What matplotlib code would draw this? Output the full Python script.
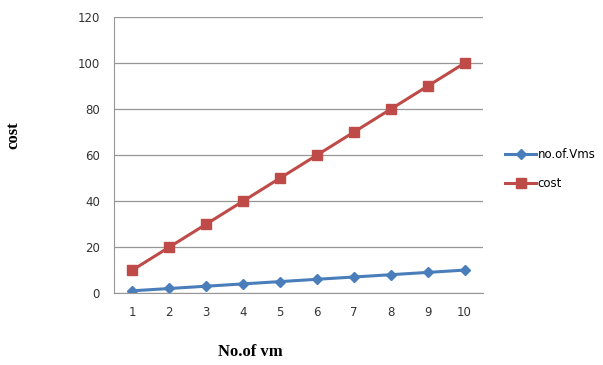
import numpy as np
import matplotlib
matplotlib.use("Agg")
import matplotlib.pyplot as plt

# Data
vm_counts = [1, 2, 3, 4, 5, 6, 7, 8, 9, 10]
no_of_vms = [1, 2, 3, 4, 5, 6, 7, 8, 9, 10]
cost = [10, 20, 30, 40, 50, 60, 70, 80, 90, 100]
y_ticks = [0, 20, 40, 60, 80, 100, 120]

fig = plt.figure(figsize=(6.03, 3.65), dpi=100)
ax = fig.add_axes([0.189, 0.197, 0.612, 0.756])

x = np.arange(len(vm_counts))
ax.plot(x, no_of_vms, color='#4A7EBB', linewidth=2.2, marker='D', markersize=5.5,
        label='no.of.Vms')
ax.plot(x, cost, color='#BE4B48', linewidth=2.2, marker='s', markersize=6.5,
        label='cost')

ax.set_xlim(-0.5, len(vm_counts) - 0.5)
ax.set_ylim(0, 120)
ax.set_yticks(y_ticks)
ax.set_xticks(x)
ax.set_xticklabels([str(v) for v in vm_counts])
ax.yaxis.grid(True, color='#969696', linewidth=0.9)
ax.set_axisbelow(True)

for side in ['top', 'right']:
    ax.spines[side].set_visible(False)
ax.spines['left'].set_color('#969696')
ax.spines['bottom'].set_color('#969696')
ax.tick_params(axis='both', length=0, labelsize=8.5, labelcolor='#333333')
ax.tick_params(axis='x', pad=9)
ax.tick_params(axis='y', pad=10)

fig.text(0.023, 0.63, 'cost', rotation=90, ha='center', va='center',
         fontsize=12, fontweight='bold', family='Liberation Serif')
fig.text(0.415, 0.035, 'No.of vm', ha='center', va='center',
         fontsize=12, fontweight='bold', family='Liberation Serif')

ax.legend(loc='center left', bbox_to_anchor=(1.047, 0.45), frameon=False,
          fontsize=8.5, handlelength=2.65, handletextpad=0.1, labelspacing=1.35,
          borderaxespad=0)

fig.savefig('out.png', dpi=100)
